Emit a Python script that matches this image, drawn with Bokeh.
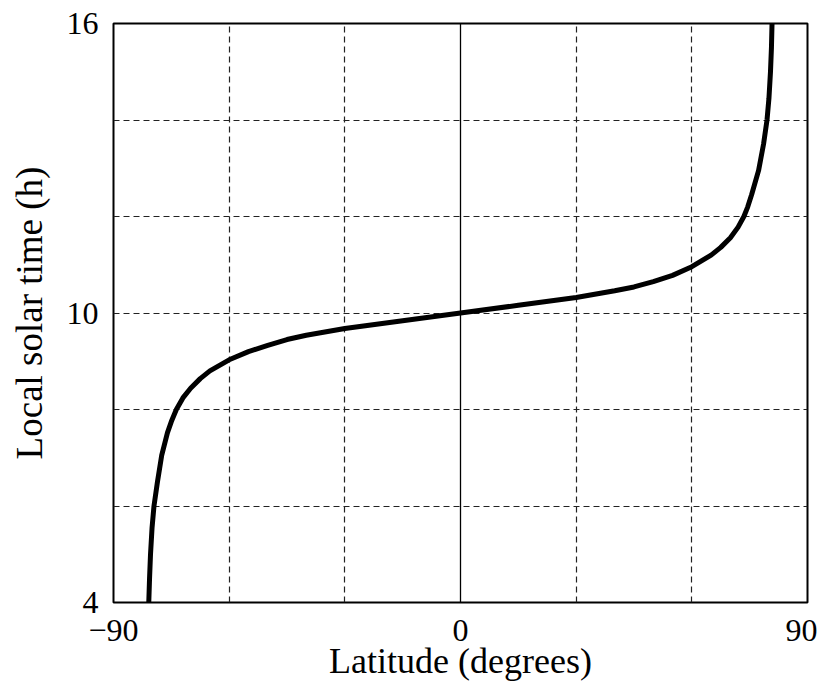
from bokeh.plotting import figure
from bokeh.models import FixedTicker, Span, Range1d
from bokeh.embed import file_html
from bokeh.resources import INLINE

# Data
latitude = [-80.85, -80.65, -80.4, -80.0, -79.5, -78.6, -77.5, -76.0, -75.0, -73.7,
            -72.0, -70.0, -67.5, -65.0, -60.0, -55.0, -50.0, -45.0, -40.0, -30.0,
            -15.0, 0.0, 15.0, 30.0, 40.0, 45.0, 50.0, 55.0, 60.0, 65.0, 67.5, 70.0,
            72.0, 73.5, 74.5, 75.5, 77.3, 78.6, 79.5, 80.0, 80.4, 80.65, 80.8]
local_time = [4.0, 4.5, 5.0, 5.55, 6.0, 6.5, 7.05, 7.52, 7.75, 8.0,
              8.24, 8.44, 8.64, 8.80, 9.03, 9.20, 9.33, 9.45, 9.54, 9.68,
              9.84, 10.0, 10.16, 10.32, 10.46, 10.54, 10.65, 10.78, 10.96, 11.2, 11.36, 11.56,
              11.78, 12.0, 12.2, 12.45, 12.95, 13.5, 14.0, 14.45, 15.0, 15.5, 16.0]

x_ticks = [-90, 0, 90]
y_ticks = [4, 10, 16]
x_grid = [-60, -30, 30, 60]
y_grid = [6, 8, 10, 12, 14]
x_labels = {-90: "\u221290", 0: "0", 90: "90"}

FONT = "Liberation Serif"

p = figure(width=817, height=684, output_backend="svg", toolbar_location=None,
           x_range=Range1d(-90, 90), y_range=Range1d(4, 16),
           min_border_left=113, min_border_right=10, min_border_top=23,
           min_border_bottom=82)
p.background_fill_color = "white"
p.border_fill_color = "white"
p.outline_line_color = "black"
p.outline_line_width = 2

p.xaxis.ticker = FixedTicker(ticks=x_ticks)
p.yaxis.ticker = FixedTicker(ticks=y_ticks)
p.xaxis.major_label_overrides = x_labels

for ax in (p.xaxis, p.yaxis):
    ax.major_tick_line_color = None
    ax.minor_tick_line_color = None
    ax.axis_line_color = None
    ax.major_label_text_font = FONT
    ax.major_label_text_font_size = "32px"
    ax.major_label_text_color = "black"
    ax.axis_label_text_font = FONT
    ax.axis_label_text_font_style = "normal"
    ax.axis_label_text_color = "black"
    ax.major_tick_out = 0
    ax.major_tick_in = 0

p.xaxis.axis_label = "Latitude (degrees)"
p.yaxis.axis_label = "Local solar time (h)"
p.xaxis.axis_label_text_font_size = "36px"
p.yaxis.axis_label_text_font_size = "37px"
p.xaxis.major_label_standoff = 17
p.yaxis.major_label_standoff = 15
p.xaxis.axis_label_standoff = -3
p.yaxis.axis_label_standoff = 14
p.xaxis.major_label_text_line_height = 1.0
p.xaxis.axis_label_text_line_height = 1.0

p.xgrid.ticker = FixedTicker(ticks=x_grid)
p.ygrid.ticker = FixedTicker(ticks=y_grid)
for g in (p.xgrid, p.ygrid):
    g.grid_line_color = "#222222"
    g.grid_line_width = 1.2
    g.grid_line_dash = "6 4"

p.add_layout(Span(location=0, dimension="height", line_color="black", line_width=1.3))

p.line(latitude, local_time, line_color="black", line_width=5, line_join="round")

open("out.html", "w").write(file_html(p, INLINE))
